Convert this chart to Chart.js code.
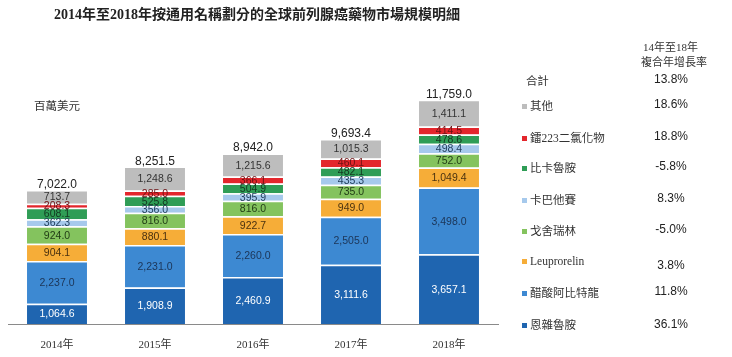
<!DOCTYPE html>
<html><head><meta charset="utf-8">
<script src="https://cdn.jsdelivr.net/npm/chart.js@4/dist/chart.umd.min.js"></script>
<style>
html,body{margin:0;padding:0;background:#fff;}
#wrap{position:relative;width:732px;height:357px;overflow:hidden;}
canvas{position:absolute;left:0;top:0;}
.t{position:absolute;white-space:nowrap;color:#222;}
#title{left:0;width:514px;top:3px;text-align:center;font:bold 14px "Liberation Serif","Noto Sans CJK TC",serif;}
#unit{left:34px;top:97px;font:11.5px "Liberation Serif","Noto Sans CJK TC",serif;color:#333;}
.hdr{font:11px "Liberation Serif","Noto Sans CJK TC",serif;color:#333;}
.lg{left:522px;font:11.5px "Liberation Serif","Noto Sans CJK TC",serif;color:#333;}
.lg i{display:inline-block;width:5px;height:5px;margin-right:3px;vertical-align:middle;position:relative;top:-1px;}
.pc{left:640px;width:62px;text-align:center;font:12px "Liberation Sans",Arial,sans-serif;color:#222;}
</style></head>
<body><div id="wrap"><canvas id="c" width="732" height="357"></canvas>
<div id="title" class="t">2014年至2018年按通用名稱劃分的全球前列腺癌藥物市場規模明細</div>
<div id="unit" class="t">百萬美元</div>
<div id="legend"></div>
</div>
<script>
const categories = ["2014年","2015年","2016年","2017年","2018年"];
const enzalutamide = [1064.6,1908.9,2460.9,3111.6,3657.1];
const abiraterone = [2237.0,2231.0,2260.0,2505.0,3498.0];
const leuprorelin = [904.1,880.1,922.7,949.0,1049.4];
const goserelin = [924.0,816.0,816.0,735.0,752.0];
const cabazitaxel = [362.3,356.0,395.9,435.3,498.4];
const bicalutamide = [608.1,525.8,504.9,482.1,478.6];
const radium223 = [208.3,285.0,366.1,460.1,414.5];
const others = [713.7,1248.6,1215.6,1015.3,1411.1];
const totals = [7022.0,8251.5,8942.0,9693.4,11759.0];
const seriesNames = ["恩雜魯胺","醋酸阿比特龍","Leuprorelin","戈舍瑞林","卡巴他賽","比卡魯胺","鐳223二氯化物","其他"];
const cagr = ["36.1%","11.8%","3.8%","-5.0%","8.3%","-5.8%","18.8%","18.6%"];
const totalName = "合計";
const totalCagr = "13.8%";
const cagrHeader = ["14年至18年","複合年增長率"];

const colors = ["#1f65b0","#3d89d2","#f6ad38","#84c35e","#a6c9ec","#2f9d56","#e3262c","#bdbdbd"];
const labelColors = ["#ffffff","#1c3557","#4a3210","#1f3a14","#24405e","#123820","#6e1114","#333333"];
const seriesData = [enzalutamide,abiraterone,leuprorelin,goserelin,cabazitaxel,bicalutamide,radium223,others];

const fmt = v => v.toLocaleString('en-US',{minimumFractionDigits:1,maximumFractionDigits:1});

const labelPlugin = {
  id:'labels',
  afterDatasetsDraw(chart){
    const ctx = chart.ctx;
    ctx.save();
    ctx.textAlign='center'; ctx.textBaseline='middle';
    ctx.font = '10.5px "Liberation Sans", Arial, sans-serif';
    chart.data.datasets.forEach((ds,i)=>{
      const meta = chart.getDatasetMeta(i);
      meta.data.forEach((el,j)=>{
        const y = (el.y + el.base)/2 + 0.75;
        ctx.fillStyle = labelColors[i];
        ctx.fillText(fmt(ds.data[j]), el.x, y);
      });
    });
    const last = chart.getDatasetMeta(chart.data.datasets.length-1);
    ctx.font = '12px "Liberation Sans", Arial, sans-serif';
    ctx.fillStyle = '#222';
    ctx.textBaseline='alphabetic';
    last.data.forEach((el,j)=>{
      ctx.fillText(fmt(totals[j]), el.x, el.y - 2);
    });
    ctx.restore();
  }
};

new Chart(document.getElementById('c'),{
  type:'bar',
  data:{
    labels:categories,
    datasets:seriesData.map((d,i)=>({
      label:seriesNames[i], data:d, backgroundColor:colors[i],
      borderColor:'#ffffff', borderWidth:{top:1.5,bottom:0,left:0,right:0}, borderSkipped:false,
      categoryPercentage:1, barPercentage:0.612
    }))
  },
  options:{
    responsive:false, animation:false, devicePixelRatio:1,
    layout:{padding:{left:8,right:234,top:97,bottom:0}},
    plugins:{legend:{display:false},tooltip:{enabled:false}},
    scales:{
      x:{stacked:true, grid:{display:false,drawTicks:false},
         border:{display:true,color:'#8a8a8a',width:1},
         ticks:{padding:15,color:'#333',font:{family:'"Liberation Serif","Noto Sans CJK TC",serif',size:11}},
         afterFit(s){s.height=33;}},
      y:{stacked:true, display:false, min:0, max:11900}
    }
  },
  plugins:[labelPlugin]
});

const wrap = document.getElementById('wrap');
function add(cls, html, top, extra){
  const d=document.createElement('div'); d.className='t '+cls; d.innerHTML=html; d.style.top=top+'px';
  if(extra) Object.assign(d.style, extra);
  wrap.appendChild(d);
}
add('hdr', cagrHeader[0], 38, {left:'643px'});
add('hdr', cagrHeader[1], 53, {left:'641px'});
const rowsY = [72,97,129,159,191,222,255,284,316];
const pcY   = [72,97,129,159,191,222,258,284,317];
add('lg', '&nbsp;'+totalName, rowsY[0], {left:'523px'});
add('pc', totalCagr, pcY[0]);
for(let k=0;k<8;k++){
  const i = 7-k;
  const name = i===2 ? '<span style="font-family:\'Liberation Serif\',serif">'+seriesNames[i]+'</span>' : seriesNames[i];
  add('lg', '<i style="background:'+colors[i]+'"></i>'+name, rowsY[k+1]);
  add('pc', cagr[i], pcY[k+1]);
}
</script>
</body></html>
